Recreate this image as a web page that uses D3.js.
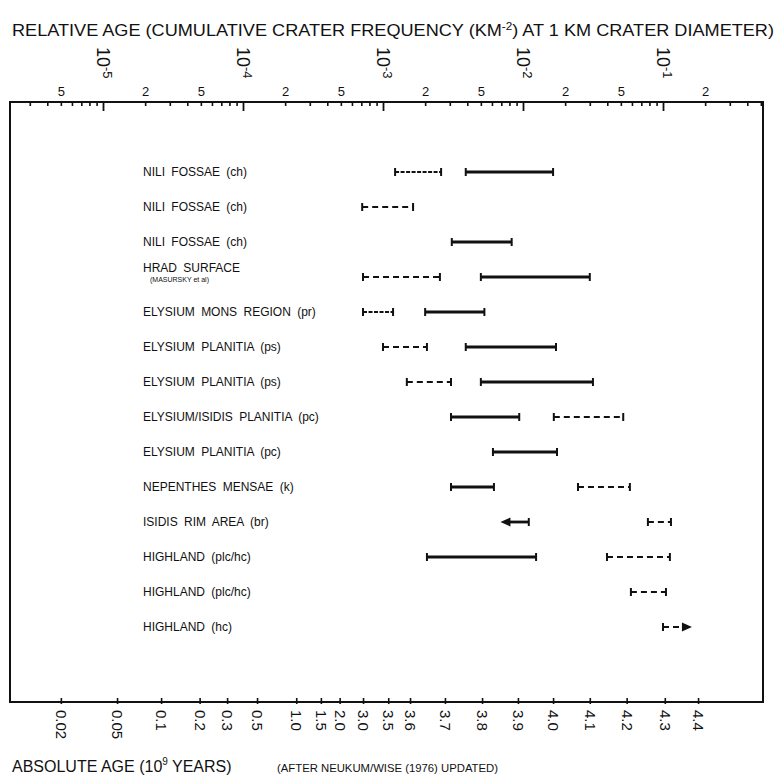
<!DOCTYPE html>
<html>
<head>
<meta charset="utf-8">
<script src="https://cdn.jsdelivr.net/npm/d3@7"></script>
<style>
  body { margin: 0; background: #fff; }
  svg { display: block; }
  text { font-family: "Liberation Sans", Arial, sans-serif; fill: #111; }
</style>
</head>
<body>
<svg id="chart" width="777" height="777"></svg>
<script>
// Surface units, top to bottom
const rowLabels = [
  "NILI FOSSAE (ch)",
  "NILI FOSSAE (ch)",
  "NILI FOSSAE (ch)",
  "HRAD SURFACE",
  "ELYSIUM MONS REGION (pr)",
  "ELYSIUM PLANITIA (ps)",
  "ELYSIUM PLANITIA (ps)",
  "ELYSIUM/ISIDIS PLANITIA (pc)",
  "ELYSIUM PLANITIA (pc)",
  "NEPENTHES MENSAE (k)",
  "ISIDIS RIM AREA (br)",
  "HIGHLAND (plc/hc)",
  "HIGHLAND (plc/hc)",
  "HIGHLAND (hc)"
];
const rowNotes = ["", "", "", "(MASURSKY et al)", "", "", "", "", "", "", "", "", "", ""];

// Crater-frequency ranges (km^-2 at 1 km diameter), one entry per bar
const segRow  = [0, 0, 1, 2, 3, 3, 4, 4, 5, 5, 6, 6, 7, 7, 8, 9, 9, 10, 10, 11, 11, 12, 13];
const segLow  = [1.22e-3, 3.9e-3, 7.1e-4, 3.1e-3, 7.2e-4, 5.0e-3, 7.2e-4, 2.0e-3, 1.0e-3, 3.9e-3,
                 1.48e-3, 5.0e-3, 3.06e-3, 1.66e-2, 6.1e-3, 3.06e-3, 2.47e-2, 6.9e-3, 7.8e-2,
                 2.06e-3, 3.98e-2, 5.9e-2, 0.100];
const segHigh = [2.6e-3, 1.64e-2, 1.64e-3, 8.3e-3, 2.55e-3, 3.0e-2, 1.18e-3, 5.3e-3, 2.06e-3, 1.72e-2,
                 3.06e-3, 3.16e-2, 9.4e-3, 5.2e-2, 1.75e-2, 6.2e-3, 5.8e-2, 1.1e-2, 0.114,
                 1.24e-2, 0.112, 0.105, 0.161];
const segLine = ["fine", "solid", "dashed", "solid", "dashed", "solid", "fine", "solid", "dashed", "solid",
                 "dashed", "solid", "solid", "dashed", "solid", "solid", "dashed", "solid", "dashed",
                 "solid", "dashed", "dashed", "dashed"];
const segArrow = ["", "", "", "", "", "", "", "", "", "", "", "", "", "", "", "", "", "left", "",
                  "", "", "", "right"];

// Relative-age axis
const decades = [1e-5, 1e-4, 1e-3, 1e-2, 1e-1];
const decadeExponents = ["-5", "-4", "-3", "-2", "-1"];
const labelledMantissas = [2, 5];

// Absolute-age axis: model age and the crater frequency it corresponds to
const ageTicks = ["0.02", "0.05", "0.1", "0.2", "0.3", "0.5", "1.0", "1.5", "2.0", "3.0",
                  "3.5", "3.6", "3.7", "3.8", "3.9", "4.0", "4.1", "4.2", "4.3", "4.4"];
const ageFreq  = [5.0e-6, 1.26e-5, 2.6e-5, 4.9e-5, 7.7e-5, 1.26e-4, 2.4e-4, 3.6e-4, 4.9e-4, 7.2e-4,
                  1.09e-3, 1.56e-3, 2.77e-3, 5.1e-3, 9.2e-3, 1.64e-2, 3.0e-2, 5.5e-2, 0.103, 0.178];

const svg = d3.select("#chart");
const frame = { left: 10, right: 763, top: 102, bottom: 702 };

const x = d3.scaleLog().domain([1e-5, 1e-1]).range([103, 663]);
const y = d3.scaleLinear().domain([0, rowLabels.length - 1]).range([172, 627]);

// Titles
const title = svg.append("text")
  .attr("x", 12).attr("y", 36)
  .attr("font-size", 17)
  .attr("textLength", 762).attr("lengthAdjust", "spacingAndGlyphs");
title.append("tspan").text("RELATIVE AGE (CUMULATIVE CRATER FREQUENCY   (KM");
title.append("tspan").attr("dy", -6).attr("font-size", 11).text("-2");
title.append("tspan").attr("dy", 6).text(")   AT 1 KM CRATER DIAMETER)");

const bottomTitle = svg.append("text").attr("x", 12).attr("y", 772).attr("font-size", 16);
bottomTitle.append("tspan").text("ABSOLUTE AGE (10");
bottomTitle.append("tspan").attr("dy", -7).attr("font-size", 10).text("9");
bottomTitle.append("tspan").attr("dy", 7).text(" YEARS)");

svg.append("text").attr("x", 277).attr("y", 772).attr("font-size", 11)
  .attr("textLength", 221).attr("lengthAdjust", "spacingAndGlyphs")
  .text("(AFTER NEUKUM/WISE (1976)  UPDATED)");

// Frame
svg.append("rect")
  .attr("x", frame.left).attr("y", frame.top)
  .attr("width", frame.right - frame.left).attr("height", frame.bottom - frame.top)
  .attr("fill", "none").attr("stroke", "#111").attr("stroke-width", 2);

// Top axis: minor ticks, with the 2s and 5s labelled
const minorValues = [];
for (let e = -6; e <= -1; e++) {
  for (let m = 2; m <= 9; m++) {
    const v = m * Math.pow(10, e);
    const px = x(v);
    if (px > frame.left + 2 && px < frame.right - 1) minorValues.push(v);
  }
}
const topMinor = d3.axisTop(x)
  .tickValues(minorValues)
  .tickSizeInner(-4).tickSizeOuter(0).tickPadding(6)
  .tickFormat(v => {
    const m = Math.round(v / Math.pow(10, Math.floor(Math.log10(v) + 1e-9)));
    return labelledMantissas.includes(m) && x(v) < frame.right - 20 ? String(m) : "";
  });
const gTop = svg.append("g").attr("transform", `translate(0,${frame.top})`).call(topMinor);
gTop.select(".domain").remove();
gTop.selectAll(".tick line").attr("stroke", "#111").attr("stroke-width", 1.6);
gTop.selectAll(".tick text").attr("font-size", 13).attr("font-family", "Liberation Sans, Arial, sans-serif")
  .attr("fill", "#111");

const topMajor = d3.axisTop(x).tickValues(decades).tickSizeInner(-9).tickSizeOuter(0).tickFormat("");
const gTopMajor = svg.append("g").attr("transform", `translate(0,${frame.top})`).call(topMajor);
gTopMajor.select(".domain").remove();
gTopMajor.selectAll(".tick line").attr("stroke", "#111").attr("stroke-width", 1.8);

// Decade labels, turned to read downwards
decades.forEach((d, i) => {
  const t = svg.append("text")
    .attr("transform", `translate(${x(d)},47) rotate(90)`)
    .attr("x", 0).attr("y", 0)
    .attr("dy", "0.36em")
    .attr("font-size", 18);
  t.append("tspan").text("10");
  t.append("tspan").attr("dy", "-0.5em").attr("font-size", 13).text(decadeExponents[i]);
});

// Bottom axis: absolute age
const ageAxis = d3.axisBottom(x)
  .tickValues(ageFreq)
  .tickSizeInner(-4).tickSizeOuter(0).tickPadding(0)
  .tickFormat((d, i) => ageTicks[i]);
const gBottom = svg.append("g").attr("transform", `translate(0,${frame.bottom})`).call(ageAxis);
gBottom.select(".domain").remove();
gBottom.selectAll(".tick line").attr("stroke", "#111").attr("stroke-width", 1.6).attr("y2", -4).attr("y1", 2);
gBottom.selectAll(".tick text")
  .attr("font-size", 15).attr("font-family", "Liberation Sans, Arial, sans-serif").attr("fill", "#111")
  .attr("text-anchor", "start")
  .attr("transform", "rotate(90)")
  .attr("x", 8).attr("y", 0).attr("dy", "0.36em");

// Row labels
const labels = svg.append("g").attr("font-size", 12).attr("word-spacing", 3);
rowLabels.forEach((name, i) => {
  const yy = y(i) + (rowNotes[i] ? -9 : 0);
  labels.append("text").attr("x", 143).attr("y", yy).attr("dy", "0.36em").text(name);
  if (rowNotes[i]) {
    labels.append("text").attr("x", 150).attr("y", yy + 11).attr("dy", "0.36em")
      .attr("font-size", 7).attr("word-spacing", 0).text(rowNotes[i]);
  }
});

// Frequency ranges
const lineStyle = {
  solid:  { w: 2.8, dash: null },
  dashed: { w: 2.0, dash: "6,4" },
  fine:   { w: 1.8, dash: "4,1.5" }
};
const bars = svg.append("g").attr("stroke", "#111").attr("fill", "#111");
segRow.forEach((r, i) => {
  const yy = y(r);
  const x0 = x(segLow[i]), x1 = x(segHigh[i]);
  const st = lineStyle[segLine[i]];
  const lx0 = segArrow[i] === "left" ? x0 + 6 : x0;
  const lx1 = segArrow[i] === "right" ? x1 - 6 : x1;
  bars.append("line")
    .attr("x1", lx0).attr("x2", lx1).attr("y1", yy).attr("y2", yy)
    .attr("stroke-width", st.w).attr("stroke-dasharray", st.dash);
  // end caps or arrowheads
  if (segArrow[i] === "left") {
    bars.append("path").attr("stroke", "none")
      .attr("d", `M${x0},${yy} L${x0 + 10},${yy - 4.5} L${x0 + 10},${yy + 4.5} Z`);
  } else {
    bars.append("line").attr("x1", x0).attr("x2", x0).attr("y1", yy - 4).attr("y2", yy + 4).attr("stroke-width", 2);
  }
  if (segArrow[i] === "right") {
    bars.append("path").attr("stroke", "none")
      .attr("d", `M${x1},${yy} L${x1 - 10},${yy - 4.5} L${x1 - 10},${yy + 4.5} Z`);
  } else {
    bars.append("line").attr("x1", x1).attr("x2", x1).attr("y1", yy - 4).attr("y2", yy + 4).attr("stroke-width", 2);
  }
});
</script>
</body>
</html>
